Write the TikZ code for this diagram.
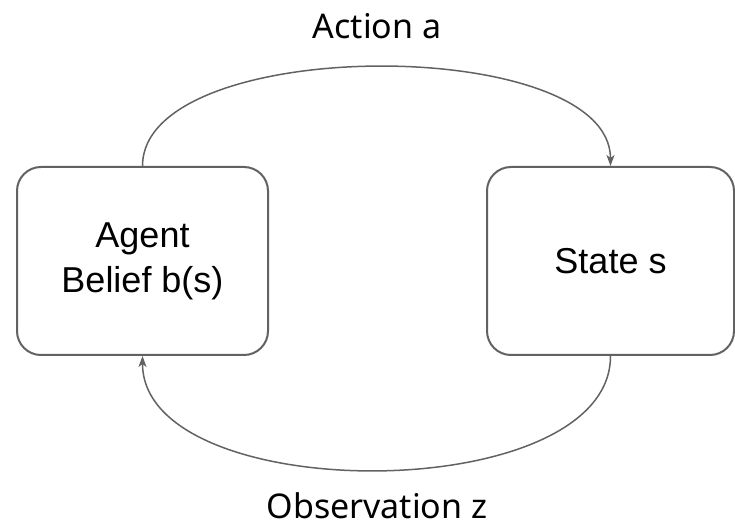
\documentclass[tikz,border=0pt]{standalone}
\usepackage{fontspec}
\setmainfont{Liberation Sans}
\newfontfamily\labelfont{Noto Sans}
\usepackage[dvipsnames]{xcolor}
\usepackage{tikz}
\usetikzlibrary{arrows.meta}

\definecolor{linegray}{HTML}{626262}

\begin{document}
\begin{tikzpicture}[x=1pt, y=1pt,
    box/.style={draw=linegray, line width=2pt, rounded corners=24pt, align=center,
      font=\fontsize{36}{45}\selectfont, inner sep=0pt},
    link/.style={draw=linegray, line width=1.5pt, -{Stealth[length=11pt, width=8pt, inset=3pt]}},
    lbl/.style={font=\labelfont\fontsize{34}{42}\selectfont, anchor=base, inner sep=0pt}]
    \useasboundingbox (0, 0) rectangle (735, 527);

    % draw agent and state boxes
    \node[box, minimum width=251pt, minimum height=188pt] (agent) at (142.5, 266) {Agent\\Belief b(s)};
    \node[box, minimum width=247pt, minimum height=188pt] (state) at (610.5, 266) {State s};

    % draw action and observation arcs
    \draw[link] (agent.north) .. controls +(0, 132) and +(0, 132) .. (state.north);
    \draw[link] (state.south) .. controls +(0, -152) and +(0, -152) .. (agent.south);

    % draw labels
    \node[lbl] (action) at (377, 488) {Action a};
    \node[lbl] (obs) at (377, 9) {Observation z};

\end{tikzpicture}
\end{document}
